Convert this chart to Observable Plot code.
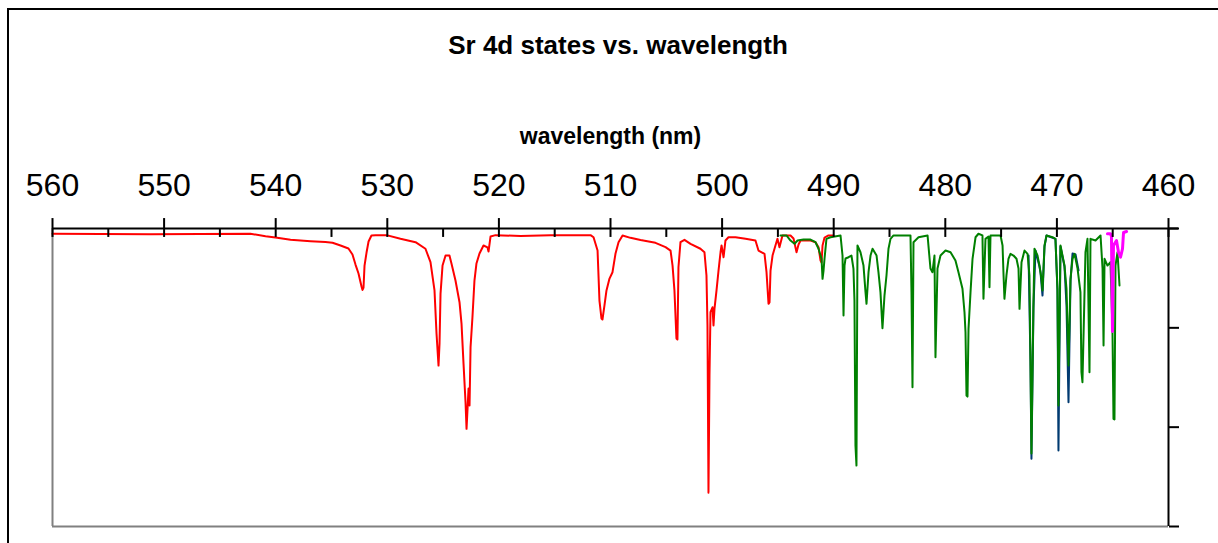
<!DOCTYPE html>
<html>
<head>
<meta charset="utf-8">
<script src="https://cdn.jsdelivr.net/npm/d3@7"></script>
<script src="https://cdn.jsdelivr.net/npm/@observablehq/plot@0.6"></script>
<style>
  html, body { margin: 0; padding: 0; background: #fff; }
  #wrap { position: relative; width: 1218px; height: 543px; overflow: hidden; font-family: Arial, "Liberation Sans", sans-serif; }
  #border { position: absolute; left: 7px; top: 8px; width: 1400px; height: 700px; border-left: 2px solid #000; border-top: 2px solid #000; }
  #title { position: absolute; left: 0; top: 30px; width: 1236px; text-align: center; font: bold 26px Arial, "Liberation Sans", sans-serif; line-height: 30px; color: #000; }
  #chart { position: absolute; left: 0; top: 60px; }
</style>
</head>
<body>
<div id="wrap">
  <div id="border"></div>
  <div id="title">Sr 4d states vs. wavelength</div>
  <div id="chart"></div>
</div>
<script>
// ---- data (wavelength in nm, relative depth; larger = deeper dip) ----
const xTicks = [560, 550, 540, 530, 520, 510, 500, 490, 480, 470, 460];
const xMinorTicks = [555, 545, 535, 525, 515, 505, 495, 485, 475, 465];
const yTicks = [0, 1, 2, 3];

const redWl = [560, 555.70, 551.22, 546.74, 542.26, 540.91, 540.02, 538.67, 536.88, 535.54, 534.91, 534.19, 533.48, 533.12, 532.85, 532.58, 532.31, 532.22, 532.13, 532.04, 531.86, 531.68, 531.42, 531.06, 530.07, 528.82, 527.47, 526.58, 526.13, 525.77, 525.59, 525.41, 525.32, 525.23, 525.05, 524.78, 524.43, 524.25, 523.89, 523.53, 523.35, 523.17, 522.99, 522.90, 522.72, 522.63, 522.54, 522.37, 522.19, 522.01, 521.74, 521.38, 521.02, 520.93, 520.75, 520.30, 518.06, 515.38, 511.79, 511.52, 511.16, 510.99, 510.81, 510.72, 510.54, 510.36, 510.09, 509.82, 509.55, 509.28, 508.92, 508.21, 507.31, 505.97, 505.07, 504.62, 504.44, 504.27, 504.09, 504.00, 503.91, 503.73, 503.37, 502.83, 501.94, 501.58, 501.40, 501.31, 501.22, 501.13, 501.04, 500.86, 500.77, 500.68, 500.50, 500.32, 500.14, 500.05, 499.87, 499.70, 499.43, 498.80, 497.90, 497.01, 496.74, 496.20, 496.02, 495.84, 495.75, 495.66, 495.48, 495.22, 495.04, 494.86, 494.59, 493.87, 493.60, 493.33, 493.15, 492.97, 492.08, 491.63, 491.36, 491.18, 491.09, 491.00, 490.82, 490.47, 490.02];
const redVal = [0.053, 0.055, 0.058, 0.055, 0.053, 0.078, 0.091, 0.114, 0.128, 0.136, 0.144, 0.171, 0.201, 0.262, 0.363, 0.453, 0.584, 0.619, 0.594, 0.373, 0.242, 0.131, 0.070, 0.067, 0.067, 0.104, 0.138, 0.204, 0.339, 0.624, 1.057, 1.380, 1.158, 0.655, 0.373, 0.272, 0.272, 0.352, 0.524, 0.742, 0.957, 1.360, 1.749, 2.017, 1.611, 1.782, 1.195, 0.893, 0.524, 0.352, 0.252, 0.171, 0.191, 0.232, 0.081, 0.067, 0.076, 0.067, 0.067, 0.088, 0.222, 0.725, 0.906, 0.916, 0.775, 0.624, 0.504, 0.440, 0.252, 0.138, 0.070, 0.094, 0.116, 0.144, 0.188, 0.222, 0.373, 0.624, 1.108, 1.118, 0.390, 0.138, 0.114, 0.154, 0.204, 0.239, 0.473, 0.977, 2.659, 1.480, 0.843, 0.793, 0.977, 0.806, 0.624, 0.423, 0.239, 0.171, 0.289, 0.121, 0.088, 0.088, 0.104, 0.121, 0.222, 0.255, 0.440, 0.758, 0.745, 0.423, 0.272, 0.171, 0.104, 0.188, 0.070, 0.070, 0.101, 0.239, 0.161, 0.121, 0.121, 0.138, 0.188, 0.322, 0.342, 0.171, 0.091, 0.070, 0.070];

const greenWl = [494.77, 494.23, 493.87, 493.51, 493.24, 492.71, 492.08, 491.63, 491.36, 491.09, 491.00, 490.91, 490.82, 490.65, 490.29, 489.39, 489.21, 489.12, 489.03, 488.94, 488.67, 488.41, 488.23, 488.14, 488.05, 487.96, 487.87, 487.60, 487.33, 487.15, 487.06, 486.88, 486.70, 486.52, 486.16, 485.99, 485.81, 485.63, 485.45, 485.27, 485.09, 484.91, 484.64, 483.12, 483.03, 482.94, 482.85, 482.40, 481.59, 481.33, 481.15, 480.97, 480.88, 480.70, 480.43, 479.98, 479.53, 479.09, 478.82, 478.46, 478.28, 478.19, 478.10, 478.01, 477.92, 477.74, 477.56, 477.29, 477.03, 476.67, 476.58, 476.40, 476.13, 476.04, 475.95, 475.05, 474.87, 474.78, 474.70, 474.52, 474.34, 474.16, 473.89, 473.62, 473.44, 473.35, 473.17, 472.90, 472.63, 472.46, 472.37, 472.28, 472.10, 472.01, 471.74, 471.56, 471.38, 471.29, 471.11, 470.93, 470.39, 470.13, 469.95, 469.86, 469.68, 469.32, 469.14, 468.96, 468.78, 468.60, 468.42, 468.15, 467.89, 467.80, 467.71, 467.44, 467.26, 467.08, 466.99, 466.54, 466.09, 465.91, 465.82, 465.73, 465.47, 465.20, 465.02, 464.93, 464.84, 464.75, 464.57, 464.39];
const greenVal = [0.070, 0.070, 0.121, 0.154, 0.121, 0.111, 0.111, 0.138, 0.204, 0.305, 0.507, 0.423, 0.302, 0.104, 0.088, 0.070, 0.272, 0.876, 0.373, 0.302, 0.289, 0.272, 0.403, 0.725, 2.185, 2.387, 0.171, 0.239, 0.373, 0.641, 0.758, 0.440, 0.272, 0.204, 0.272, 0.440, 0.641, 1.004, 0.675, 0.473, 0.204, 0.104, 0.070, 0.070, 0.641, 1.598, 0.138, 0.088, 0.070, 0.403, 0.440, 0.272, 1.296, 0.403, 0.272, 0.222, 0.239, 0.322, 0.440, 0.607, 0.843, 1.044, 1.682, 1.692, 1.010, 0.641, 0.305, 0.088, 0.053, 0.070, 0.708, 0.104, 0.081, 0.591, 0.070, 0.070, 0.171, 0.473, 0.708, 0.473, 0.305, 0.255, 0.272, 0.305, 0.403, 0.809, 0.339, 0.222, 0.255, 0.473, 1.312, 2.266, 0.742, 0.204, 0.272, 0.373, 0.507, 0.624, 0.171, 0.070, 0.088, 0.104, 0.607, 1.782, 0.171, 0.373, 0.607, 1.380, 0.507, 0.305, 0.255, 0.403, 0.641, 1.447, 1.548, 0.239, 0.104, 1.447, 0.104, 0.121, 0.070, 0.403, 1.178, 0.305, 0.373, 0.339, 1.027, 1.916, 1.923, 0.373, 0.239, 0.574];

const navyWl = [472.54, 472.37, 472.28, 472.10, 471.92, 471.56, 471.47, 471.29, 471.11, 470.93, 470.13, 469.95, 469.86, 469.68, 469.32, 469.14, 468.96, 468.78, 468.60, 468.33, 468.06];
const navyVal = [0.272, 1.329, 2.319, 0.796, 0.222, 0.383, 0.443, 0.675, 0.181, 0.070, 0.104, 0.624, 2.236, 0.181, 0.383, 0.775, 1.749, 0.524, 0.252, 0.262, 0.423];

const magentaWl = [465.47, 465.20, 465.11, 465.02, 464.93, 464.66, 464.48, 464.30, 464.12, 464.03, 463.76];
const magentaVal = [0.053, 0.053, 0.081, 1.037, 0.171, 0.121, 0.239, 0.289, 0.204, 0.040, 0.030];

const toRows = (wl, val) => wl.map((w, i) => ({wl: w, v: val[i]}));

const chart = Plot.plot({
  width: 1218,
  height: 483,
  marginLeft: 52,
  marginRight: 50,
  marginTop: 168,
  marginBottom: 17,
  x: {domain: [560, 460]},
  y: {domain: [0, 3], reverse: true},
  style: {fontFamily: "Arial, 'Liberation Sans', sans-serif", background: "transparent", overflow: "visible", color: "#000"},
  marks: [
    // left and bottom frame (gray)
    Plot.ruleX([560], {stroke: "#808080", strokeWidth: 2}),
    Plot.ruleY([3], {stroke: "#808080", strokeWidth: 2}),
    // series
    Plot.line(toRows(redWl, redVal), {x: "wl", y: "v", stroke: "#ff0000", strokeWidth: 2}),
    Plot.line(toRows(navyWl, navyVal), {x: "wl", y: "v", stroke: "#003a70", strokeWidth: 2}),
    Plot.line(toRows(greenWl, greenVal), {x: "wl", y: "v", stroke: "#008000", strokeWidth: 2}),
    Plot.line(toRows(magentaWl, magentaVal), {x: "wl", y: "v", stroke: "#ff00ff", strokeWidth: 3}),
    // top axis line and right axis line
    Plot.ruleY([0], {stroke: "#000", strokeWidth: 2, insetRight: -10}),
    Plot.ruleX([460], {stroke: "#000", strokeWidth: 2}),
    // right axis ticks (no labels)
    Plot.axisY({anchor: "right", ticks: yTicks, tickSize: 10, strokeWidth: 2, stroke: "#000", tickFormat: () => "", label: null}),
    // top axis ticks: major cross the line, minor inside
    Plot.ruleX(xTicks, {x: d => d, y1: -0.1, y2: 0.09, stroke: "#000", strokeWidth: 2}),
    Plot.ruleX(xMinorTicks, {x: d => d, y1: 0, y2: 0.09, stroke: "#000", strokeWidth: 2}),
    Plot.axisX({anchor: "top", ticks: xTicks, tickSize: 0, tickPadding: 33, fontSize: 32, fill: "#000", label: null, tickFormat: d => String(d)}),
    // axis title
    Plot.text(["wavelength (nm)"], {text: d => d, frameAnchor: "top", dy: -85, lineAnchor: "bottom", fontSize: 23, fontWeight: "bold", fill: "#000"})
  ]
});
document.getElementById("chart").appendChild(chart);
</script>
</body>
</html>
